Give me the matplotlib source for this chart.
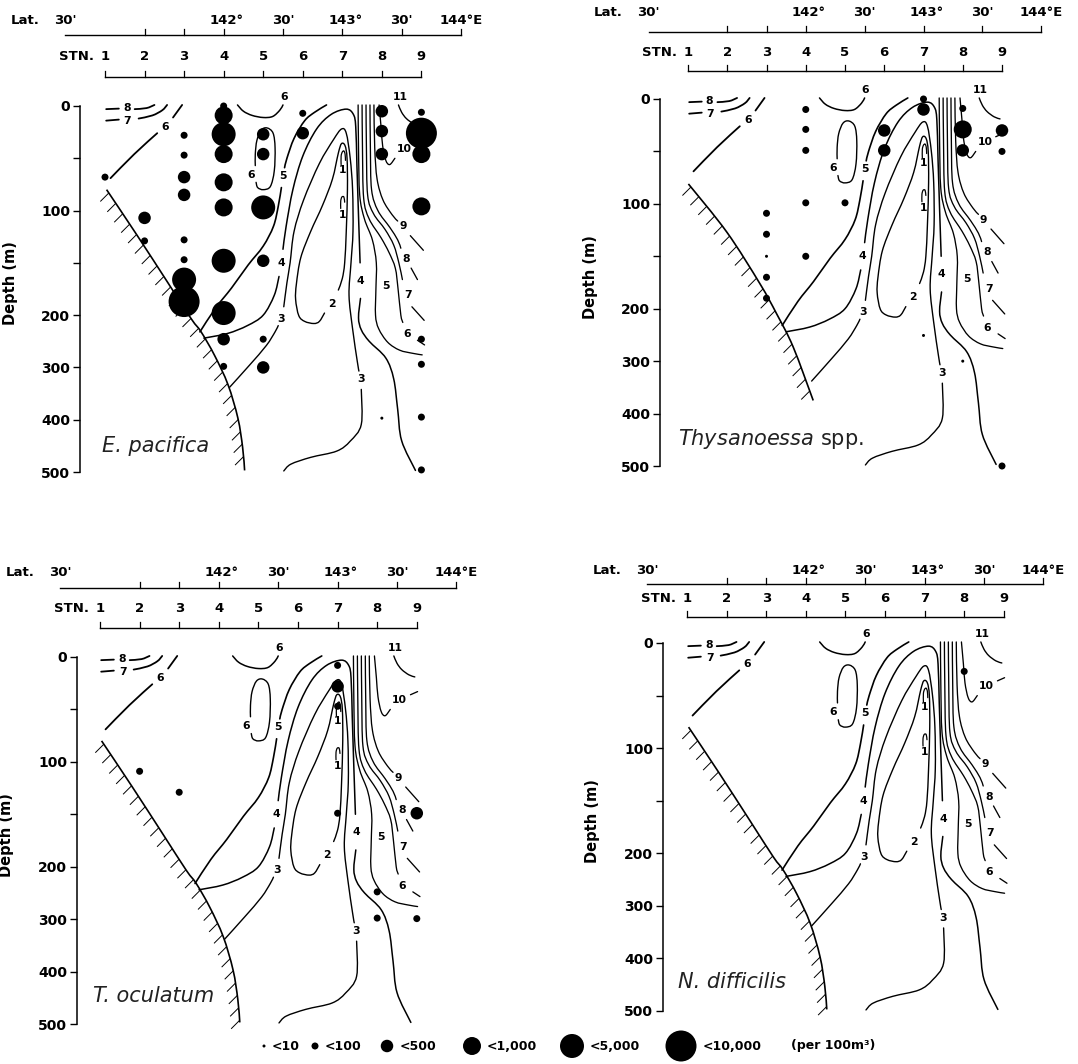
import numpy as np
import matplotlib
matplotlib.use("Agg")
import matplotlib.pyplot as plt
from matplotlib.path import Path
from matplotlib.patches import PathPatch
from matplotlib.collections import LineCollection
from matplotlib import transforms

plt.rcParams['font.family'] = ['DejaVu Sans']

# ---------------------------------------------------------------- data
STATIONS = [1, 2, 3, 4, 5, 6, 7, 8, 9]
LAT_POS = [0.0, 2, 3, 4, 5.5, 7, 8.5, 10]
LAT_LABELS = ["30'", "", "", "142°", "30'", "143°", "30'", "144°E"]
DEPTH_TICKS = [0, 100, 200, 300, 400, 500]
DEPTH_MINOR = [50, 150]
SIZE_CLASSES = ["<10", "<100", "<500", "<1,000", "<5,000", "<10,000"]
UNIT_LABEL = "(per 100m³)"
SPECIES = ["E. pacifica", r"$\mathit{Thysanoessa}$ spp.", "T. oculatum", "N. difficilis"]

# abundance (station, depth m, size class index)
epac_stn = [1, 2, 2, 3, 3, 3, 3, 3, 3, 3, 3, 4, 4, 4, 4, 4, 4, 4, 4, 4, 4,
            5, 5, 5, 5, 5, 5, 6, 6, 8, 8, 8, 8, 9, 9, 9, 9, 9, 9, 9, 9]
epac_dep = [68, 107, 129, 28, 47, 68, 85, 128, 147, 166, 187, 0, 9, 27, 46, 73, 97, 148, 198, 246, 298,
            27, 46, 97, 148, 246, 300, 7, 26, 5, 24, 46, 397, 6, 26, 46, 96, 246, 294, 395, 496]
epac_cls = [1, 2, 1, 1, 1, 2, 2, 1, 1, 4, 5, 1, 3, 4, 3, 3, 3, 4, 4, 2, 1,
            2, 2, 4, 2, 1, 2, 1, 2, 2, 2, 2, 0, 1, 5, 3, 3, 1, 1, 1, 1]

thys_stn = [3, 3, 3, 3, 3, 4, 4, 4, 4, 4, 5, 6, 6, 7, 7, 7, 8, 8, 8, 8, 9, 9, 9]
thys_dep = [109, 129, 150, 170, 190, 10, 29, 49, 99, 150, 99, 30, 49, 0, 10, 251, 9, 29, 49, 300, 30, 50, 500]
thys_cls = [1, 1, 0, 1, 1, 1, 1, 1, 1, 1, 1, 2, 2, 1, 2, 0, 1, 3, 2, 0, 2, 1, 1]

tocu_stn = [2, 3, 7, 7, 7, 7, 8, 8, 9, 9]
tocu_dep = [109, 129, 8, 28, 47, 149, 248, 298, 149, 299]
tocu_cls = [1, 1, 1, 2, 1, 1, 1, 1, 2, 1]

ndif_stn = [8]
ndif_dep = [27]
ndif_cls = [1]

# bottom topography (station, depth)
slope_main = [(1.04, 80), (1.8, 123), (2.59, 169), (3.18, 207), (3.43, 232), (3.77, 277),
              (4.11, 333), (4.36, 397), (4.48, 453), (4.53, 497)]
slope_thys = [(1.01, 81), (1.99, 127), (2.83, 176), (3.26, 210), (3.68, 273), (4.19, 375)]

# isotherms (deg C) as traced pieces of (station, depth)
iso_8_left = [[(1.03, 3), (1.35, 2.5)], [(1.75, 3), (2.05, 2), (2.25, -1)]]
iso_7_left = [[(1.03, 14), (1.35, 13)], [(1.85, 12), (2.2, 9), (2.45, 4), (2.57, -1)]]
iso_6_left = [[(2.95, -1), (2.72, 11)], [(2.32, 26), (1.74, 46), (1.14, 69)]]
iso_6_top = [[(4.35, -1), (4.5, 5), (4.72, 9), (5.0, 11), (5.24, 10), (5.42, 4), (5.5, -1)]]
iso_6_oval = [[(4.82, 73), (4.86, 78), (5.0, 80), (5.18, 77), (5.28, 62), (5.3, 40), (5.25, 26),
               (5.1, 21), (4.95, 23), (4.84, 33), (4.8, 46), (4.8, 57)]]
iso_5_left = [[(6.6, -1), (6.3, 6), (6.05, 14), (5.78, 31), (5.6, 50), (5.54, 59)],
              [(5.46, 78), (5.38, 96), (5.26, 115), (5.0, 134), (4.62, 152), (4.2, 174), (3.8, 193), (3.4, 232)]]
iso_4 = [[(3.5, 244), (4.1, 235), (4.6, 220), (5.0, 200), (5.28, 181), (5.4, 163)],
         [(5.5, 137), (5.58, 115), (5.75, 80), (6.0, 48), (6.35, 22), (6.72, 8), (7.1, 3), (7.28, 8),
          (7.34, 20), (7.37, 57), (7.41, 105), (7.45, 150)],
         [(7.46, 184), (7.41, 205), (7.48, 228), (7.68, 250), (8.1, 282), (8.3, 322), (8.4, 380),
          (8.5, 440), (8.85, 497)]]
iso_3 = [[(4.15, 338), (4.65, 296), (5.08, 258), (5.3, 232), (5.38, 220)],
         [(5.52, 192), (5.6, 169), (5.68, 150), (5.78, 120), (6.02, 90), (6.42, 55), (6.78, 32),
          (6.98, 22), (7.1, 26), (7.2, 50), (7.26, 80), (7.27, 120), (7.22, 150), (7.17, 181),
          (7.26, 226), (7.38, 289), (7.42, 307)],
         [(7.48, 342), (7.48, 409), (7.2, 441), (6.86, 460), (6.2, 472), (5.7, 485), (5.52, 498)]]
iso_2 = [[(6.9, 176), (7.0, 165), (7.06, 150), (7.1, 120), (7.13, 80), (7.12, 50), (7.07, 38),
          (6.98, 36), (6.9, 45), (6.75, 70), (6.5, 95), (6.2, 120), (5.95, 145), (5.84, 170),
          (5.82, 185), (5.9, 201), (6.05, 212), (6.28, 216), (6.42, 212), (6.55, 198)]]
iso_1a = [[(6.97, 56), (6.97, 48), (7.0, 44), (7.04, 43), (7.07, 46), (7.08, 52)]]
iso_1b = [[(6.96, 98), (6.96, 91), (6.99, 87), (7.04, 87), (7.06, 92)]]
iso_5_right = [[(7.40, -1), (7.41, 40), (7.44, 85), (7.56, 108), (7.76, 128), (7.86, 150), (7.85, 175),
                (7.84, 200), (7.92, 226), (8.15, 252), (8.45, 267), (8.78, 273), (9.02, 276)]]
iso_6_right = [[(7.50, -1), (7.51, 40), (7.54, 88), (7.68, 108), (7.98, 126), (8.18, 140), (8.34, 155),
                (8.41, 175), (8.48, 200), (8.53, 214)], [(8.9, 248), (9.08, 257)]]
iso_7_right = [[(7.60, -1), (7.61, 40), (7.64, 85), (7.79, 103), (8.08, 118), (8.3, 133), (8.43, 150),
                (8.52, 166)], [(8.76, 192), (9.07, 210)]]
iso_8_right = [[(7.70, -1), (7.71, 40), (7.74, 80), (7.9, 100), (8.2, 116), (8.4, 128), (8.48, 136)],
               [(8.74, 155), (8.9, 166)]]
iso_9_right = [[(7.80, -1), (7.82, 40), (7.88, 70), (8.03, 90), (8.26, 104), (8.4, 110)],
               [(8.72, 124), (9.05, 138)]]
iso_10_right = [[(7.93, -1), (7.98, 20), (8.02, 38), (8.1, 52), (8.2, 56), (8.33, 50)],
                [(8.84, 36), (9.02, 33)]]
iso_11 = [[(8.42, -1), (8.5, 6), (8.62, 12), (8.8, 17), (8.95, 19)]]

contour_labels = [("8", 1.55, 2), ("7", 1.57, 14), ("6", 2.53, 20), ("6", 5.52, -9), ("6", 4.7, 66),
                  ("5", 5.5, 67), ("4", 5.45, 150), ("3", 5.46, 207), ("2", 6.74, 189),
                  ("1", 7.0, 61), ("1", 7.0, 104), ("4", 7.46, 167), ("3", 7.47, 323),
                  ("5", 8.1, 172), ("6", 8.63, 236), ("7", 8.66, 181), ("8", 8.62, 146),
                  ("9", 8.53, 115), ("10", 8.57, 41), ("11", 8.46, -9)]

# ---------------------------------------------------------------- helpers
W, H = 1078, 1064
fig = plt.figure(figsize=(W / 100, H / 100), dpi=100)
fig.patch.set_facecolor('white')

CLASS_DIAM_PX = [3, 7, 12.5, 18, 24, 31]


def fwd(d):
    d = np.asarray(d, float)
    return np.where(d <= 200, d, 200 + (d - 200) / 2.0)


def inv(v):
    v = np.asarray(v, float)
    return np.where(v <= 200, v, 200 + (v - 200) * 2.0)


def smooth_path(ax, pts):
    disp = ax.transData.transform(np.asarray(pts, float))
    n = len(disp)
    if n < 3:
        verts = list(disp)
        codes = [Path.MOVETO] + [Path.LINETO] * (n - 1)
    else:
        verts = [disp[0]]
        codes = [Path.MOVETO]
        for i in range(n - 1):
            p0 = disp[i - 1] if i > 0 else disp[i]
            p1 = disp[i]
            p2 = disp[i + 1]
            p3 = disp[i + 2] if i + 2 < n else disp[i + 1]
            verts += [p1 + (p2 - p0) / 6.0, p2 - (p3 - p1) / 6.0, p2]
            codes += [Path.CURVE4] * 3
    data = ax.transData.inverted().transform(np.array(verts))
    return Path(data, codes)


def draw_curve(ax, pts, lw):
    ax.add_patch(PathPatch(smooth_path(ax, pts), fill=False, ec='k', lw=lw,
                           clip_on=False, capstyle='round', joinstyle='round', zorder=2))


def draw_slope(ax, pts):
    path = smooth_path(ax, pts)
    ax.add_patch(PathPatch(path, fill=False, ec='k', lw=1.2, clip_on=False, zorder=2))
    disp = ax.transData.transform_path(path)
    poly = disp.to_polygons(closed_only=False)[0]
    seg = np.diff(poly, axis=0)
    cum = np.concatenate([[0], np.cumsum(np.hypot(seg[:, 0], seg[:, 1]))])
    s = np.arange(4, cum[-1] - 2, 12.5)
    hx = np.interp(s, cum, poly[:, 0])
    hy = np.interp(s, cum, poly[:, 1])
    invt = ax.transData.inverted()
    segs = []
    for x, y in zip(hx, hy):
        a = invt.transform([x, y])
        b = invt.transform([x - 8.5, y - 8.5])
        segs.append([a, b])
    ax.add_collection(LineCollection(segs, colors='k', linewidths=0.7, clip_on=False, zorder=2))


CONTOURS = [(iso_8_left, 1.3), (iso_7_left, 1.3), (iso_6_left, 1.3), (iso_6_top, 1.1),
            (iso_6_oval, 1.0), (iso_5_left, 1.2), (iso_4, 1.1), (iso_3, 1.0), (iso_2, 1.0),
            (iso_1a, 0.9), (iso_1b, 0.9), (iso_5_right, 0.95), (iso_6_right, 0.95),
            (iso_7_right, 0.95), (iso_8_right, 0.95), (iso_9_right, 0.95), (iso_10_right, 0.95),
            (iso_11, 1.0)]

PANELS = [
    dict(spine=80, stn1=105, sp=39.55, d0=106, d500=472, offs=(29, 49, 71, 86),
         data=(epac_stn, epac_dep, epac_cls), slope=slope_main, name_at=(0.92, 450)),
    dict(spine=660, stn1=688, sp=39.25, d0=99, d500=466, offs=(28, 47, 67, 86),
         data=(thys_stn, thys_dep, thys_cls), slope=slope_thys, name_at=(0.75, 449)),
    dict(spine=77, stn1=100, sp=39.6, d0=657, d500=1024, offs=(29, 48, 69, 85),
         data=(tocu_stn, tocu_dep, tocu_cls), slope=slope_main, name_at=(0.82, 446)),
    dict(spine=663, stn1=687, sp=39.6, d0=643, d500=1011, offs=(26, 44, 59, 72),
         data=(ndif_stn, ndif_dep, ndif_cls), slope=slope_main, name_at=(0.77, 445)),
]

BOLD = dict(fontweight='bold', color='k')

for k, P in enumerate(PANELS):
    x_left = 1 + (P['spine'] - P['stn1']) / P['sp']
    x_right = 9.7
    right_px = P['stn1'] + (x_right - 1) * P['sp']
    ax_w = right_px - P['spine']
    ax_h = P['d500'] - P['d0']
    ax = fig.add_axes([P['spine'] / W, 1 - P['d500'] / H, ax_w / W, ax_h / H])
    ax.set_facecolor('none')
    ax.set_xlim(x_left, x_right)
    ax.set_yscale('function', functions=(fwd, inv))
    ax.set_ylim(500, 0)
    for side in ('top', 'right', 'bottom'):
        ax.spines[side].set_visible(False)
    ax.spines['left'].set_linewidth(1.1)
    ax.set_xticks([])
    ax.set_yticks(DEPTH_TICKS)
    ax.set_yticks(DEPTH_MINOR, minor=True)
    ax.set_yticklabels([str(t) for t in DEPTH_TICKS])
    ax.tick_params(axis='y', which='both', direction='out', length=5, width=1.0, pad=2)
    ax.tick_params(axis='y', which='major', labelsize=10)
    for lab in ax.get_yticklabels():
        lab.set_fontweight('bold')
    ax.set_ylabel("Depth (m)", fontsize=10.5, fontweight='bold')
    ax.yaxis.set_label_coords(-62.5 / ax_w, 0.515)

    # top scales
    tr = transforms.blended_transform_factory(ax.transData, ax.transAxes)
    stn_line, stn_lab, lat_line, lat_lab = P['offs']

    def yf(off):
        return 1 + off / ax_h

    ax.plot([STATIONS[0], STATIONS[-1]], [yf(stn_line)] * 2, transform=tr, color='k', lw=1.0, clip_on=False)
    for s in STATIONS:
        ax.plot([s, s], [yf(stn_line), yf(stn_line + 6)], transform=tr, color='k', lw=0.9, clip_on=False)
        ax.text(s, yf(stn_lab), str(s), transform=tr, ha='center', va='center', fontsize=9.5, **BOLD)
    ax.text(STATIONS[0] - 11 / P['sp'], yf(stn_lab), "STN.", transform=tr, ha='right', va='center',
            fontsize=9.5, **BOLD)
    ax.plot([LAT_POS[0], LAT_POS[-1]], [yf(lat_line)] * 2, transform=tr, color='k', lw=1.0, clip_on=False)
    for i, (p, lab) in enumerate(zip(LAT_POS, LAT_LABELS)):
        if i > 0:
            ax.plot([p, p], [yf(lat_line), yf(lat_line + 6)], transform=tr, color='k', lw=0.9, clip_on=False)
        if lab:
            dx = 3 / P['sp'] if lab.endswith('°') else 0
            ax.text(p + dx, yf(lat_lab), lab, transform=tr, ha='center', va='center', fontsize=9.5, **BOLD)
    ax.text(LAT_POS[0] - 26 / P['sp'], yf(lat_lab), "Lat.", transform=tr, ha='right', va='center',
            fontsize=9.5, **BOLD)

    # contours
    for pieces, lw in CONTOURS:
        for pc in pieces:
            draw_curve(ax, pc, lw)
    for txt, sx, dy in contour_labels:
        ax.text(sx, dy, txt, ha='center', va='center', fontsize=7.8, fontweight='bold', clip_on=False)

    # bottom
    draw_slope(ax, P['slope'])

    # bubbles
    st, dp, cl = P['data']
    sizes = [(CLASS_DIAM_PX[c] * 0.72) ** 2 for c in cl]
    ax.scatter(st, dp, s=sizes, c='k', edgecolors='none', zorder=3, clip_on=False)

    # species name
    nx, ny = P['name_at']
    style = 'normal' if k == 1 else 'italic'
    ax.text(nx, ny, SPECIES[k], ha='left', va='center', fontsize=15, style=style, color='#222222')

# legend
lax = fig.add_axes([0, 0, 1, 40 / H])
lax.set_xlim(0, W)
lax.set_ylim(0, 40)
lax.axis('off')
LEG_X = [264, 315, 387, 472, 572, 681]
for x, lab, d in zip(LEG_X, SIZE_CLASSES, CLASS_DIAM_PX):
    lax.scatter([x], [18], s=(d * 0.72) ** 2, c='k', edgecolors='none', clip_on=False)
    lax.text(x + d / 2 + 6, 18, lab, ha='left', va='center', fontsize=9, **BOLD)
lax.text(791, 18, UNIT_LABEL, ha='left', va='center', fontsize=9, **BOLD)

fig.savefig("out.png", dpi=100, facecolor='white')
